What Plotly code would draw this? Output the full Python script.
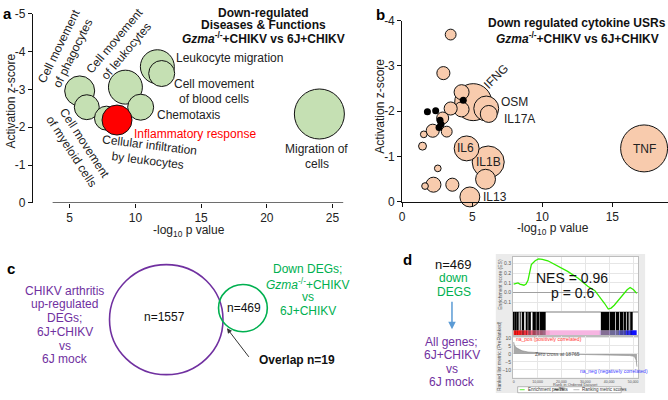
import plotly.graph_objects as go
import numpy as np

W, H = 668, 400
FONT = "Liberation Sans, Arial, sans-serif"
TXT = "#222222"
PURPLE = "#7030A0"
GREEN = "#00B050"


def X(p):
    return p / W


def Y(p):
    return 1 - p / H


# ---------------- Panel a data ----------------
a_functions = ["Cell movement of phagocytes", "Cell movement of leukocytes", "Leukocyte migration",
               "Cell movement of blood cells", "Cell movement of myeloid cells", "Chemotaxis",
               "Cellular infiltration by leukocytes", "Inflammatory response", "Migration of cells"]
a_logp = [5.76, 9.24, 11.67, 12.0, 6.3, 10.4, 7.8, 8.6, 24.0]
a_z = [-2.96, -3.06, -3.60, -3.42, -2.53, -2.53, -2.24, -2.19, -2.35]
a_molecules = [100, 128, 128, 75, 69, 75, 64, 100, 278]
a_xticks = [5, 10, 15, 20, 25]
a_yticks = [0, -1, -2, -3, -4, -5]

# ---------------- Panel b data ----------------
b_labels = ["IFNG", "TNF", "IL1B", "IL6", "OSM", "", "IL13", "IL17A", "", "", "", "", "", "", "",
            "", "", "", "", "", "", ""]
b_logp = [5.07, 17.27, 6.14, 4.60, 6.00, 5.95, 4.83, 6.18, 4.24, 4.24, 2.23, 2.94, 3.46, 2.18, 3.58,
          2.89, 3.46, 3.18, 1.45, 1.54, 2.54, 1.63]
b_z = [-2.20, -1.18, -0.88, -1.18, -2.06, -0.50, -0.11, -1.94, -2.42, -2.04, -0.38, -2.84, -2.06, -1.57,
       -0.38, -1.85, -3.69, -1.55, -1.23, -1.49, -0.74, -0.35]
b_targets = [152, 245, 114, 69, 69, 44, 44, 32, 25, 25, 25, 19, 19, 19, 19, 16, 13, 13, 7, 5, 5, 5]
bk_logp = [1.80, 2.39, 2.70, 2.77, 2.63, 4.36]
bk_z = [-1.99, -2.01, -1.80, -1.71, -1.64, -2.24]
b_xticks = [0, 5, 10, 15]
b_yticks = [0, -1, -2, -3, -4]

# ---------------- Panel c data ----------------
venn_sets = ["CHIKV arthritis up-regulated DEGs", "Down DEGs Gzma-/-"]
venn_counts = [1557, 469]
venn_overlap = 19

# ---------------- Panel d data (GSEA) ----------------
es_rank = [0, 1000, 1800, 2600, 4300, 5200, 6000, 7400, 9000, 10400, 12000, 14300, 18000, 22600, 27000,
           31000, 34000, 36500, 38000, 39600, 40800, 42100, 44000, 46250, 47500, 48750, 50200, 51500]
es_val = [0.087, 0.095, 0.10, 0.088, 0.077, 0.09, 0.127, 0.29, 0.33, 0.35, 0.345, 0.33, 0.28, 0.22, 0.15,
          0.067, 0.02, -0.057, -0.11, -0.17, -0.16, -0.13, -0.07, 0.0, 0.03, 0.053, 0.03, -0.007]
hit_start = [0, 700, 1500, 2600, 3400, 5100, 6100, 7900, 9500, 11000, 36500, 40200, 42800, 44500,
             46000, 47500, 48700, 49300]
hit_end = [250, 950, 1750, 2850, 4400, 5600, 7200, 9300, 10800, 13400, 40000, 42500, 44200, 45800,
           47000, 48000, 48950, 49550]
bar_edges = [0, 3000, 6000, 9000, 12000, 15000, 36000, 40000, 44000, 47000, 49000, 51600]
bar_corr = [1.0, 0.85, 0.6, 0.35, 0.15, 0.0, -0.2, -0.35, -0.6, -0.85, -1.0]
metric_rank = [0, 300, 1000, 2000, 3500, 6000, 10000, 14000, 18765, 25000, 32000, 40000, 45000, 48500,
               50500, 51300, 51600]
metric_val = [7.5, 5.5, 4.0, 3.0, 2.0, 1.2, 0.7, 0.3, 0.0, -0.2, -0.35, -0.5, -0.7, -1.0, -1.5, -4.0, -8.0]
rank_ticks = [0, 10000, 20000, 30000, 40000, 50000]
NES = 0.96
P_VAL = 0.6

fig = go.Figure()

# ----- Panel a bubbles -----
a_colors = ["#FF0000" if f == "Inflammatory response" else "#C5E0B3" for f in a_functions]
a_sizes = [3.0 * np.sqrt(m) for m in a_molecules]
fig.add_trace(go.Scatter(x=a_logp, y=a_z, mode="markers", xaxis="x", yaxis="y", cliponaxis=False,
                         marker=dict(size=a_sizes, color=a_colors, opacity=1,
                                     line=dict(color="#111111", width=1)),
                         hoverinfo="skip", showlegend=False))

# ----- Panel b bubbles -----
b_sizes = [3.0 * np.sqrt(t) for t in b_targets]
fig.add_trace(go.Scatter(x=b_logp, y=b_z, mode="markers", xaxis="x2", yaxis="y2", cliponaxis=False,
                         marker=dict(size=b_sizes, color="#F8CBAD", opacity=1,
                                     line=dict(color="#111111", width=1)),
                         hoverinfo="skip", showlegend=False))
fig.add_trace(go.Scatter(x=bk_logp, y=bk_z, mode="markers", xaxis="x2", yaxis="y2", cliponaxis=False,
                         marker=dict(size=7, color="#000000"), hoverinfo="skip", showlegend=False))

# ----- Panel d GSEA -----
fig.add_trace(go.Scatter(x=es_rank, y=es_val, mode="lines", xaxis="x3", yaxis="y3",
                         line=dict(color="#33EE00", width=1.3), hoverinfo="skip", showlegend=False))
fig.add_trace(go.Heatmap(x=bar_edges, y=[0, 0.24], z=[bar_corr], xaxis="x4", yaxis="y4", zmin=-1, zmax=1,
                         colorscale=[[0, "#1010FF"], [0.3, "#9E9EE6"], [0.5, "#F7B5E2"], [0.75, "#F37C9E"],
                                     [1, "#FF1A1A"]], showscale=False, hoverinfo="skip"))
h_center = [(s + e) / 2 for s, e in zip(hit_start, hit_end)]
h_width = [e - s for s, e in zip(hit_start, hit_end)]
fig.add_trace(go.Bar(x=h_center, width=h_width, y=[0.76] * len(h_center), base=0.24, xaxis="x4", yaxis="y4",
                     marker=dict(color="#000000", line=dict(width=0)), hoverinfo="skip", showlegend=False))
fig.add_trace(go.Bar(x=h_center, width=h_width, y=[0.24] * len(h_center), base=0, xaxis="x4", yaxis="y4",
                     marker=dict(color="rgba(0,0,0,0.35)", line=dict(width=0)), hoverinfo="skip",
                     showlegend=False))
fig.add_trace(go.Scatter(x=metric_rank, y=metric_val, mode="lines", fill="tozeroy", xaxis="x5", yaxis="y5",
                         line=dict(color="#8a8a8a", width=0.6), fillcolor="#a8a8a8", hoverinfo="skip",
                         showlegend=False))

# ----- axes -----
tf = dict(family=FONT, size=12, color=TXT)
ax_common = dict(showgrid=False, zeroline=False, ticks="outside", ticklen=4, tickcolor="#111",
                 tickfont=tf, linecolor="#111", linewidth=1)
gs_x = dict(domain=[X(512), X(638)], range=[-400, 52100], gridcolor="#e6e6e6", gridwidth=0.5,
            zeroline=False, tickvals=rank_ticks, showline=True, mirror=True, linecolor="#bdbdbd",
            linewidth=0.5, ticks="")
fig.update_layout(
    xaxis=dict(domain=[X(30), X(342)], range=[(30 - 1) / 13.2, (342 - 1) / 13.2], anchor="y",
               tickvals=a_xticks, showline=False, **ax_common),
    yaxis=dict(domain=[Y(203), Y(7)], range=[0, -5], anchor="x", tickvals=a_yticks,
               ticktext=[str(v) if v == 0 else "-" + str(-v) for v in a_yticks], showline=True, **ax_common),
    xaxis2=dict(domain=[X(401), 1.0], range=[0, (668 - 401) / 14.07], anchor="y2", tickvals=b_xticks,
                showline=True, **ax_common),
    yaxis2=dict(domain=[Y(202), Y(14)], range=[0, -4], anchor="x2", tickvals=b_yticks,
                ticktext=[str(v) if v == 0 else "-" + str(-v) for v in b_yticks], showline=True, **ax_common),
    xaxis3=dict(anchor="y3", showticklabels=False, showgrid=True, **gs_x),
    yaxis3=dict(domain=[Y(316), Y(259)], range=[-0.20, 0.37], anchor="x3", tickvals=[-0.1, 0, 0.1, 0.2, 0.3],
                ticktext=["-0.1", "0.0", "0.1", "0.2", "0.3"], tickfont=dict(family=FONT, size=5, color="#555"),
                showgrid=True, gridcolor="#e6e6e6", gridwidth=0.5, zeroline=True, zerolinecolor="#a0a0a0",
                zerolinewidth=0.6, showline=True, mirror=True, linecolor="#bdbdbd", linewidth=0.5),
    xaxis4=dict(anchor="y4", showticklabels=False, showgrid=False, **gs_x),
    yaxis4=dict(domain=[Y(341), Y(316)], range=[0, 1], anchor="x4", showticklabels=False, showgrid=False,
                zeroline=False, showline=True, mirror=True, linecolor="#bdbdbd", linewidth=0.5),
    xaxis5=dict(anchor="y5", ticktext=["0", "10,000", "20,000", "30,000", "40,000", "50,000"],
                tickfont=dict(family=FONT, size=3.5, color="#555"), showgrid=True, **gs_x),
    yaxis5=dict(domain=[Y(384), Y(341)], range=[-14.8, 11.2], anchor="x5", tickvals=[-10, -5, 0, 5, 10],
                tickfont=dict(family=FONT, size=5, color="#555"), showgrid=True, gridcolor="#e6e6e6",
                gridwidth=0.5, zeroline=False, showline=True, mirror=True, linecolor="#bdbdbd", linewidth=0.5),
    barmode="overlay",
)

# ----- shapes -----
shapes = []
# panel a x axis line (offset from y axis)
shapes.append(dict(type="line", xref="x", yref="y", x0=3.7, x1=(342 - 1) / 13.2, y0=0, y1=0,
                   line=dict(color="#111", width=1)))
# GSEA background
shapes.append(dict(type="rect", xref="paper", yref="paper", x0=X(495), x1=X(645), y0=Y(400), y1=Y(256),
                   fillcolor="#ebebeb", line=dict(width=0), layer="below"))
shapes.append(dict(type="rect", xref="paper", yref="paper", x0=X(512), x1=X(638), y0=Y(384), y1=Y(259),
                   fillcolor="#ffffff", line=dict(width=0), layer="below"))
# Venn circles (panel c)
pc, pr = (164, 324), 57
gc, gr = (241, 312), 24.5
shapes.append(dict(type="circle", xref="paper", yref="paper", x0=X(pc[0] - pr), x1=X(pc[0] + pr),
                   y0=Y(pc[1] + pr), y1=Y(pc[1] - pr), line=dict(color=PURPLE, width=1.6)))
shapes.append(dict(type="circle", xref="paper", yref="paper", x0=X(gc[0] - gr), x1=X(gc[0] + gr),
                   y0=Y(gc[1] + gr), y1=Y(gc[1] - gr), line=dict(color=GREEN, width=1.6)))
# GSEA legend
shapes.append(dict(type="rect", xref="paper", yref="paper", x0=X(517), x1=X(621), y0=Y(399.7), y1=Y(393.5),
                   fillcolor="#ffffff", line=dict(color="#777", width=0.5)))
for (x0, x1, c) in [(519, 524, "#33EE00"), (554, 558, "#000000"), (573, 579, "#aaaaaa")]:
    shapes.append(dict(type="line", xref="paper", yref="paper", x0=X(x0), x1=X(x1), y0=Y(396.6), y1=Y(396.6),
                       line=dict(color=c, width=0.8)))
fig.update_layout(shapes=shapes)

# ----- annotations -----
ann = []


def T(x, y, text, size=12, color=TXT, xanchor="center", angle=0, bold=False):
    if bold:
        text = "<b>" + text + "</b>"
    ann.append(dict(x=X(x), y=Y(y), xref="paper", yref="paper", text=text, showarrow=False,
                    xanchor=xanchor, yanchor="middle", textangle=angle, borderpad=0,
                    font=dict(family=FONT, size=size, color=color)))


# panel letters
T(5, 7, "a", 15, "#000", bold=True)
T(379, 8, "b", 15, "#000", bold=True)
T(8, 271, "c", 15, "#000", bold=True)
T(406, 262, "d", 15, "#000", bold=True)

# Panel a
T(262, 6, "Down-regulated", 12, "#111", bold=True)
T(262, 19, "Diseases &amp; Functions", 12, "#111", bold=True)
T(262, 32, "<i>Gzma</i><sup>-/-</sup>+CHIKV vs 6J+CHIKV", 12, "#111", bold=True)
T(8, 97, "Activation z-score", 12, angle=-90)
T(187, 232, "-log<sub>10</sub> p value", 12)
T(64, 44, "Cell movement<br>of phagocytes", 12, angle=-64)
T(118, 40, "Cell movement<br>of leukocytes", 12, angle=-50)
T(75, 145, "Cell movement<br>of myeloid cells", 12, angle=57)
T(146, 151, "Cellular infiltration<br>by leukocytes", 12, angle=7)
T(173, 53, a_functions[2], 12, xanchor="left")
T(212, 80, "Cell movement", 12)
T(212, 95, "of blood cells", 12)
T(154, 112, a_functions[5], 12, xanchor="left")
T(131, 132, a_functions[7], 12, "#FF0000", xanchor="left")
T(315, 147, "Migration of", 12)
T(315, 163, "cells", 12)

# Panel b
T(577, 17, "Down regulated cytokine USRs", 12, "#111", bold=True)
T(577, 32, "<i>Gzma</i><sup>-/-</sup>+CHIKV vs 6J+CHIKV", 12, "#111", bold=True)
T(379, 103, "Activation z-score", 12, angle=-90)
T(552, 230, "-log<sub>10</sub> p value", 12)
T(496, 72, b_labels[0], 12, angle=-45)
T(499, 98, b_labels[4], 12, xanchor="left")
T(502, 116, b_labels[7], 12, xanchor="left")
T(465, 146, b_labels[3], 12)
T(488, 161, b_labels[2], 12)
T(481, 197, b_labels[6], 12, xanchor="left")
T(644, 147, b_labels[1], 12)

# Panel c
for i, line in enumerate(["CHIKV arthritis", "up-regulated", "DEGs;", "6J+CHIKV", "vs", "6J mock"]):
    T(62, 294 + 14.2 * i, line, 12, PURPLE)
for yy, line in zip([272, 287, 301, 315], ["Down DEGs;", "<i>Gzma</i><sup>-/-</sup>+CHIKV", "vs", "6J+CHIKV"]):
    T(306, yy, line, 12, GREEN)
T(162, 321, "n=%d" % venn_counts[0], 12, "#111")
T(242, 312, "n=%d" % venn_counts[1], 12, "#111")
T(256, 366, "Overlap n=%d" % venn_overlap, 12, "#111", xanchor="left", bold=True)
ann.append(dict(x=X(225), y=Y(333), xref="paper", yref="paper", text="", showarrow=True, ax=23, ay=30,
                arrowhead=2, arrowsize=1, arrowwidth=1, arrowcolor="#333"))

# Panel d left
T(453, 267, "n=%d" % venn_counts[1], 13, "#111")
T(453, 281, "down", 12, GREEN)
T(453, 295, "DEGS", 12, GREEN)
ann.append(dict(x=X(451), y=Y(334), xref="paper", yref="paper", text="", showarrow=True, ax=0, ay=-29,
                arrowhead=2, arrowsize=1, arrowwidth=1.5, arrowcolor="#5B9BD5"))
for i, line in enumerate(["All genes;", "6J+CHIKV", "vs", "6J mock"]):
    T(451, 347 + 14 * i, line, 12, PURPLE)

# GSEA texts
T(572, 281, "NES = %.2f" % NES, 14, "#111")
T(572, 296, "p = %.1f" % P_VAL, 14, "#111")
T(499, 287, "Enrichment score (ES)", 5, "#555", angle=-90)
T(499, 362, "Ranked list metric (PreRanked)", 5, "#555", angle=-90)
T(514, 344, "na_pos (positively correlated)", 5, "#ff3030", xanchor="left")
T(579, 377, "na_neg (negatively correlated)", 5, "#4040ff", xanchor="left")
T(533, 360, "Zero cross at 18765", 5, "#555", xanchor="left")
T(575, 390.8, "Rank in Ordered Dataset", 4, "#555")
T(526, 396.6, "Enrichment profile", 4.5, "#333", xanchor="left")
T(559, 396.6, "Hits", 4.5, "#333", xanchor="left")
T(581, 396.6, "Ranking metric scores", 4.5, "#333", xanchor="left")

fig.update_layout(annotations=ann, width=W, height=H, margin=dict(l=0, r=0, t=0, b=0), autosize=False,
                  paper_bgcolor="white", plot_bgcolor="rgba(0,0,0,0)", showlegend=False,
                  font=dict(family=FONT, color=TXT))

fig.write_html("out.html", config={"displayModeBar": False},
               post_script="document.body.style.margin='0';document.body.style.overflow='hidden';")
